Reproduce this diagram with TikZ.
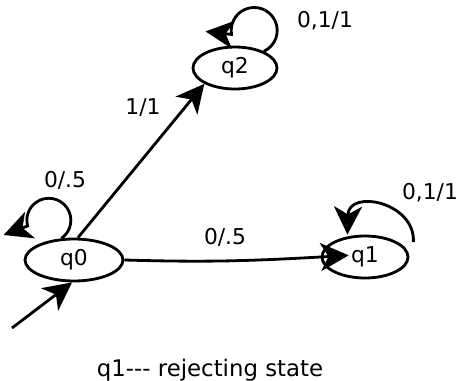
\documentclass[tikz,border=0pt]{standalone}
\usepackage{fontspec}
\setmainfont{DejaVu Sans}
\usetikzlibrary{shapes.geometric,arrows.meta}

\begin{document}
\begin{tikzpicture}[x=0.02cm,y=0.02cm,line width=1.6pt,
    state/.style={draw,ellipse,inner sep=0pt,minimum height=0.84cm},
    every node/.style={font=\fontsize{12.4pt}{15pt}\selectfont},
    >={Stealth[length=16pt,width=16pt,inset=4.5pt]}]
  \useasboundingbox (0,0) rectangle (461,380);
  \node[state,minimum width=1.96cm] (q0) at (74,120) {q0};
  \node[state,minimum width=1.68cm] (q2) at (235,312) {q2};
  \node[state,minimum width=1.72cm] (q1) at (365,123) {q1};
  \coordinate (start) at (12,52);
  % transitions
  \draw[->] (start) -- (q0.265);
  \draw[->] (q0.80) -- (q2.south west);
  \draw[->,shorten >=-16pt] (q0.east) to[bend right=2.5] (q1.west);
  % loops
  \draw[->] (q0.120) arc[start angle=-55,end angle=195,radius=22] -- ++(-24,-9);
  \draw[->] (q2.30) arc[start angle=-65,end angle=190,radius=23] -- ++(-26,3);
  \draw[->] ([shift={(4,15)}]q1.east) .. controls +(2,40) and +(1,46) .. ([xshift=-10]q1.north);
  % labels
  \node (l00) at (65,200) {0/.5};
  \node (l21) at (143,272) {1/1};
  \node (l22) at (325,359) {0,1/1};
  \node (l01) at (225,143) {0/.5};
  \node (l11) at (430,187) {0,1/1};
  \node[font=\fontsize{13pt}{15pt}\selectfont] (note) at (210,10) {q1-{}-{}- rejecting state};
\end{tikzpicture}
\end{document}
